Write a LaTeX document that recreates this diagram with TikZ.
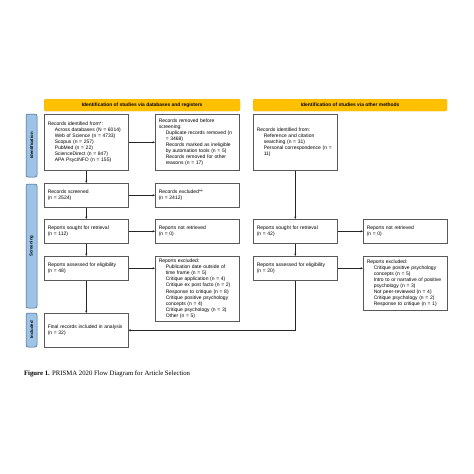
\documentclass[tikz,border=0pt]{standalone}
\usepackage{fontspec}
\usepackage{tikz}
\usetikzlibrary{
  arrows.meta,
  positioning,
  calc
}
\newfontfamily\prsans{Liberation Sans}
\newfontfamily\prserif{Liberation Serif}
\definecolor{prHead}{HTML}{FFC000}
\definecolor{prHeadLine}{HTML}{D9A300}
\definecolor{prSide}{HTML}{9DC3E6}
\definecolor{prSideLine}{HTML}{3E5F80}
\definecolor{prLine}{HTML}{595959}
\newcommand{\ind}{\hspace*{14pt}}
\tikzset{
  prbox/.style={
    draw=prLine, line width=1pt, anchor=north west, align=left,
    text width=154pt, inner xsep=7pt, inner ysep=2pt, minimum height=48pt,
    font=\prsans\fontsize{10}{12.2}\selectfont
  },
  headbar/.style={
    draw=prHeadLine, fill=prHead, rounded corners=4pt, anchor=north west,
    minimum height=24pt, inner sep=0pt, font=\prsans\bfseries\fontsize{9.8}{11}\selectfont
  },
  sidebar/.style={
    draw=prSideLine, fill=prSide, rounded corners=4pt, line width=1pt, rotate=90,
    minimum height=22pt, inner sep=0pt, font=\prsans\bfseries\fontsize{8.5}{10}\selectfont
  },
  flow/.style={-{Stealth[length=4.5pt, width=4pt]}, line width=.8pt, black!85}
}
\begin{document}
\begin{tikzpicture}[x=2pt, y=-2pt]
  \useasboundingbox[fill=white] (0,0) rectangle (474,474);
  \node[headbar, minimum width=392pt] (head1) at (44,99) {Identification of studies via databases and registers};
  \node[headbar, minimum width=388pt] (head2) at (253,99) {Identification of studies via other methods};

  \node[sidebar, minimum width=126pt] (sideid) at (31.5,145.5) {Identification};
  \node[sidebar, minimum width=248pt] (sidescr) at (31.5,246) {Screening};
  \node[sidebar, minimum width=68pt] (sideinc) at (31.5,330) {Included};

  \node[prbox, minimum height=112pt] (ident) at (44,114)
    {Records identified from*:\\
     \ind Across databases (N = 6014)\\
     \ind Web of Science (n = 4733)\\
     \ind Scopus (n = 257)\\
     \ind PubMed (n = 22)\\
     \ind ScienceDirect (n = 847)\\
     \ind APA PsycINFO (n = 155)};
  \node[prbox, minimum height=112pt] (removed) at (155,114)
    {Records removed before\\
     screening:\\
     \ind Duplicate records removed (n\\
     \ind = 3468)\\
     \ind Records marked as ineligible\\
     \ind by automation tools (n = 5)\\
     \ind Records removed for other\\
     \ind reasons (n = 17)};
  \node[prbox] (screened) at (44,183) {Records screened\\(n = 2524)};
  \node[prbox] (excluded) at (155,183) {Records excluded**\\(n = 2412)};
  \node[prbox] (sought) at (44,219) {Reports sought for retrieval\\(n = 112)};
  \node[prbox] (notret) at (155,219) {Reports not retrieved\\(n = 0)};
  \node[prbox] (assessed) at (44,256) {Reports assessed for eligibility\\(n = 48)};
  \node[prbox, minimum height=130pt] (excl) at (155,256)
    {Reports excluded:\\
     \ind Publication date outside of\\
     \ind time frame (n = 5)\\
     \ind Critique application (n = 4)\\
     \ind Critique ex post facto (n = 2)\\
     \ind Response to critique (n = 8)\\
     \ind Critique positive psychology\\
     \ind concepts (n = 4)\\
     \ind Critique psychology (n = 3)\\
     \ind Other (n = 5)};
  \node[prbox, minimum height=68pt] (final) at (44,313) {Final records included in analysis\\(n = 32)};

  \node[prbox, minimum height=112pt] (other) at (253,114)
    {Records identified from:\\
     \ind Reference and citation\\
     \ind searching (n = 31)\\
     \ind Personal correspondence (n =\\
     \ind 11)};
  \node[prbox] (osought) at (253,219) {Reports sought for retrieval\\(n = 42)};
  \node[prbox] (onotret) at (363,219) {Reports not retrieved\\(n = 0)};
  \node[prbox] (oassessed) at (253,256) {Reports assessed for eligibility\\(n = 20)};
  \node[prbox, minimum height=108pt] (oexcl) at (363,256)
    {Reports excluded:\\
     \ind Critique positive psychology\\
     \ind concepts (n = 5)\\
     \ind Intro to or narrative of positive\\
     \ind psychology (n = 3)\\
     \ind Not peer-reviewed (n = 4)\\
     \ind Critique psychology (n = 2)\\
     \ind Response to critique (n = 1)};

  \draw[flow] (ident) -- (screened);
  \draw[flow] (ident.east) -- (ident.east -| removed.west);
  \draw[flow] (screened) -- (excluded);
  \draw[flow] (screened) -- (sought);
  \draw[flow] (sought) -- (notret);
  \draw[flow] (sought) -- (assessed);
  \draw[flow] (assessed.east) -- (assessed.east -| excl.west);
  \draw[flow] (assessed) -- (final);
  \draw[flow] (other) -- (osought);
  \draw[flow] (osought) -- (onotret);
  \draw[flow] (osought) -- (oassessed);
  \draw[flow] (oassessed.east) -- (oassessed.east -| oexcl.west);
  \draw[flow] (oassessed.south) |- (final.east);

  \node[anchor=west, inner sep=0pt, font=\prserif\fontsize{13.5}{15}\selectfont] (caption) at (24,374)
    {\textbf{Figure 1.} PRISMA 2020 Flow Diagram for Article Selection};
\end{tikzpicture}
\end{document}
